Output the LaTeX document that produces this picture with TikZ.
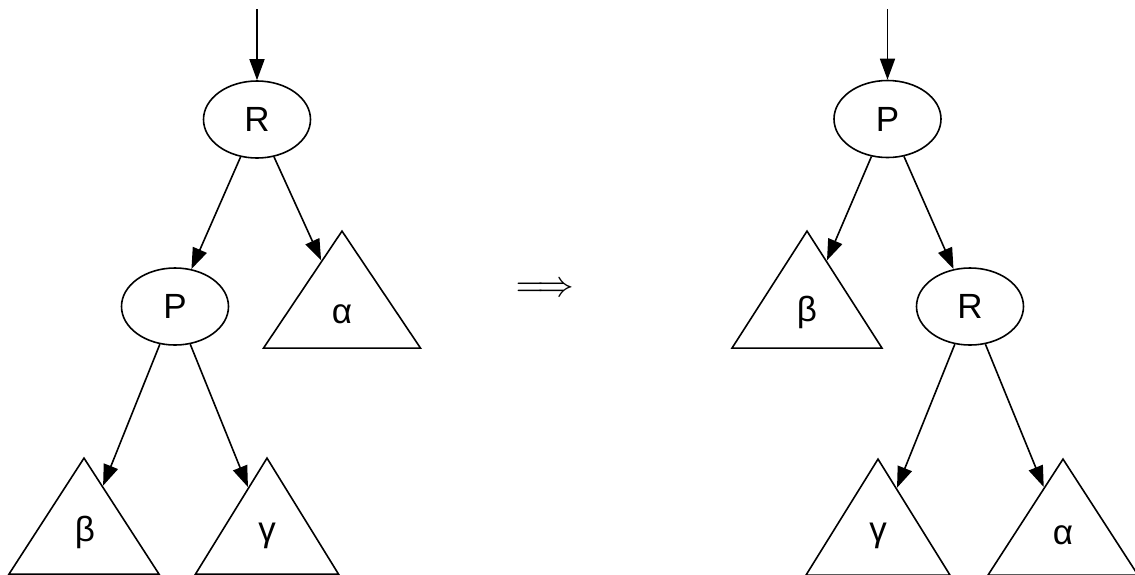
\documentclass[tikz,border=0pt]{standalone}
\usepackage{graphicx}
\usepackage{fontspec}
\setmainfont{Liberation Sans}
\usetikzlibrary{shapes.geometric,arrows.meta}
\tikzset{
  tn/.style={ellipse, draw, line width=1.6pt, inner sep=0pt, minimum width=107pt, minimum height=77pt, font=\fontsize{35}{40}\selectfont},
  tri/.style={isosceles triangle, isosceles triangle stretches, shape border rotate=90, draw, line width=1.6pt, inner sep=0pt, anchor=apex},
  lbl/.style={inner sep=0pt, font=\fontsize{35}{40}\selectfont},
  edge/.style={line width=1.6pt, -{Triangle[length=21pt,width=15pt]}}
}
\begin{document}
\begin{tikzpicture}[x=1pt,y=-1pt]
\useasboundingbox (0,0) rectangle (1135,574);
% left tree
\coordinate (lin) at (257,9);
\node[tn] (lR) at (257,119.5) {R};
\node[tn] (lP) at (175,306.5) {P};
\node[tri, minimum width=157pt, minimum height=117pt] (la) at (342,229) {};
\node[tri, minimum width=150pt, minimum height=116pt] (lb) at (84,456) {};
\node[tri, minimum width=143pt, minimum height=116pt] (lg) at (267,456) {};
\node[lbl] (lal) at (342,314) {α};
\node[lbl] (lbl) at (85,532) {β};
\node[lbl] (lgl) at (267,536) {γ};
\draw[edge] (lin) -- (lR);
\draw[edge] (lR) -- (lP);
\draw[edge] (lR) -- (la);
\draw[edge] (lP) -- (lb);
\draw[edge] (lP) -- (lg);
% transformation arrow
\node[inner sep=0pt] (imp) at (545,289.5) {\resizebox{59pt}{!}{$\Longrightarrow$}};
% right tree
\coordinate (rin) at (887.5,9);
\node[tn] (rP) at (887.5,119) {P};
\node[tn] (rR) at (970,306.5) {R};
\node[tri, minimum width=150pt, minimum height=117pt] (rb) at (807,229) {};
\node[tri, minimum width=144pt, minimum height=116pt] (rg) at (878,457) {};
\node[tri, minimum width=150pt, minimum height=116pt] (ra) at (1063,457) {};
\node[lbl] (rbl) at (807,312) {β};
\node[lbl] (rgl) at (878,536) {γ};
\node[lbl] (ral) at (1063,535) {α};
\draw[edge] (rin) -- (rP);
\draw[edge] (rP) -- (rb);
\draw[edge] (rP) -- (rR);
\draw[edge] (rR) -- (rg);
\draw[edge] (rR) -- (ra);
\end{tikzpicture}
\end{document}
